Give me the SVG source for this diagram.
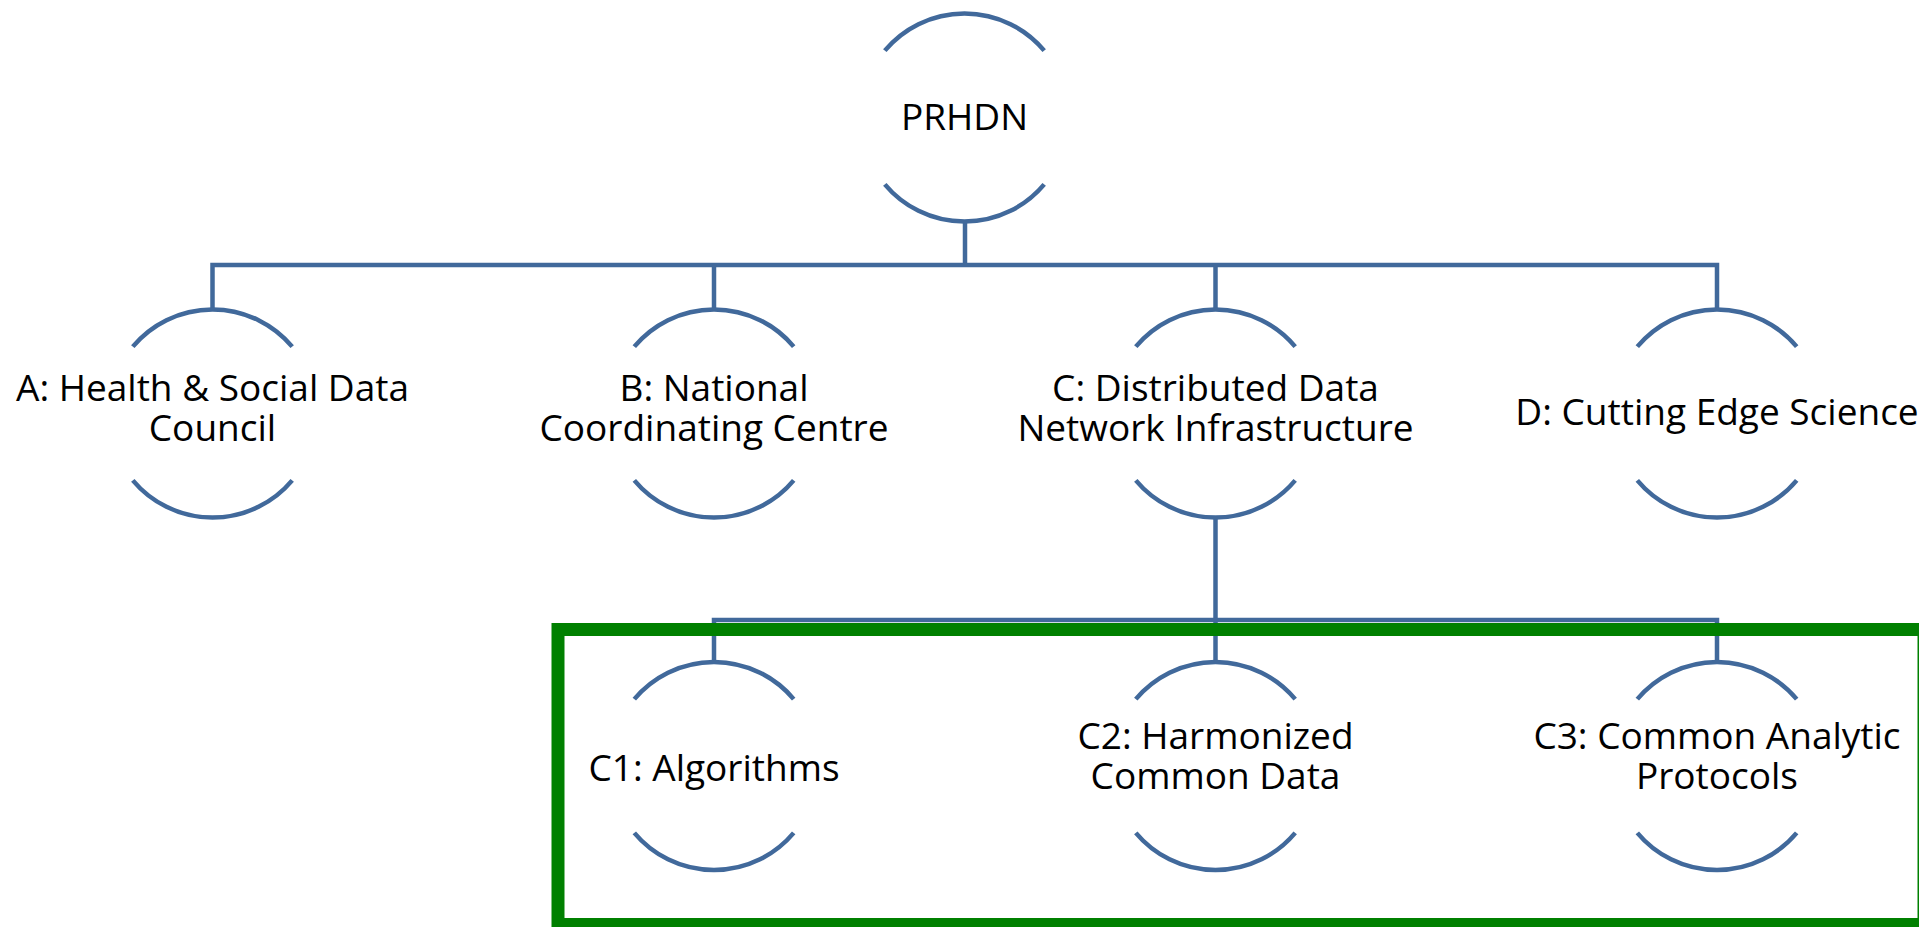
<svg xmlns="http://www.w3.org/2000/svg" width="1919" height="927" viewBox="0 0 1919 927">
<style>
.arc{fill:none;stroke:#41699B;stroke-width:4.5}
.con{fill:none;stroke:#41699B;stroke-width:4.5;stroke-linejoin:miter}
.t{font-family:"Open Sans","Noto Sans","Liberation Sans",sans-serif;font-size:37px;fill:#000;text-anchor:middle}
</style>
<rect width="1919" height="927" fill="#fff"/>
<g id="connectors">
<path class="con" d="M965,221.5 V265"/>
<path class="con" d="M212.5,309.5 V265 H1717 V309.5"/>
<path class="con" d="M714,265 V309.5"/>
<path class="con" d="M1215.5,265 V309.5"/>
<path class="con" d="M1215.5,517.5 V662"/>
<path class="con" d="M714,662 V620 H1717 V662"/>
</g>
<g id="PRHDN">
<path class="arc" d="M884.8,50.6 A104 104 0 0 1 1044.2,50.6"/>
<path class="arc" d="M884.8,184.4 A104 104 0 0 0 1044.2,184.4"/>
<text class="t" x="964.5" y="130">PRHDN</text>
</g>
<g id="nodeA">
<path class="arc" d="M132.8,346.6 A104 104 0 0 1 292.2,346.6"/>
<path class="arc" d="M132.8,480.4 A104 104 0 0 0 292.2,480.4"/>
<text class="t" x="212.5" y="401">A: Health &amp; Social Data<tspan x="212.5" dy="40">Council</tspan></text>
</g>
<g id="nodeB">
<path class="arc" d="M634.3,346.6 A104 104 0 0 1 793.7,346.6"/>
<path class="arc" d="M634.3,480.4 A104 104 0 0 0 793.7,480.4"/>
<text class="t" x="714" y="401">B: National<tspan x="714" dy="40">Coordinating Centre</tspan></text>
</g>
<g id="nodeC">
<path class="arc" d="M1135.8,346.6 A104 104 0 0 1 1295.2,346.6"/>
<path class="arc" d="M1135.8,480.4 A104 104 0 0 0 1295.2,480.4"/>
<text class="t" x="1215.5" y="401">C: Distributed Data<tspan x="1215.5" dy="40">Network Infrastructure</tspan></text>
</g>
<g id="nodeD">
<path class="arc" d="M1637.3,346.6 A104 104 0 0 1 1796.7,346.6"/>
<path class="arc" d="M1637.3,480.4 A104 104 0 0 0 1796.7,480.4"/>
<text class="t" x="1717" y="425">D: Cutting Edge Science</text>
</g>
<g id="nodeC1">
<path class="arc" d="M634.3,699.1 A104 104 0 0 1 793.7,699.1"/>
<path class="arc" d="M634.3,832.9 A104 104 0 0 0 793.7,832.9"/>
<text class="t" x="714" y="781">C1: Algorithms</text>
</g>
<g id="nodeC2">
<path class="arc" d="M1135.8,699.1 A104 104 0 0 1 1295.2,699.1"/>
<path class="arc" d="M1135.8,832.9 A104 104 0 0 0 1295.2,832.9"/>
<text class="t" x="1215.5" y="749">C2: Harmonized<tspan x="1215.5" dy="40">Common Data</tspan></text>
</g>
<g id="nodeC3">
<path class="arc" d="M1637.3,699.1 A104 104 0 0 1 1796.7,699.1"/>
<path class="arc" d="M1637.3,832.9 A104 104 0 0 0 1796.7,832.9"/>
<text class="t" x="1717" y="749">C3: Common Analytic<tspan x="1717" dy="40">Protocols</tspan></text>
</g>
<g id="highlight">
<rect x="558" y="629.5" width="1366" height="295" fill="none" stroke="#008000" stroke-width="13"/>
</g>
</svg>
